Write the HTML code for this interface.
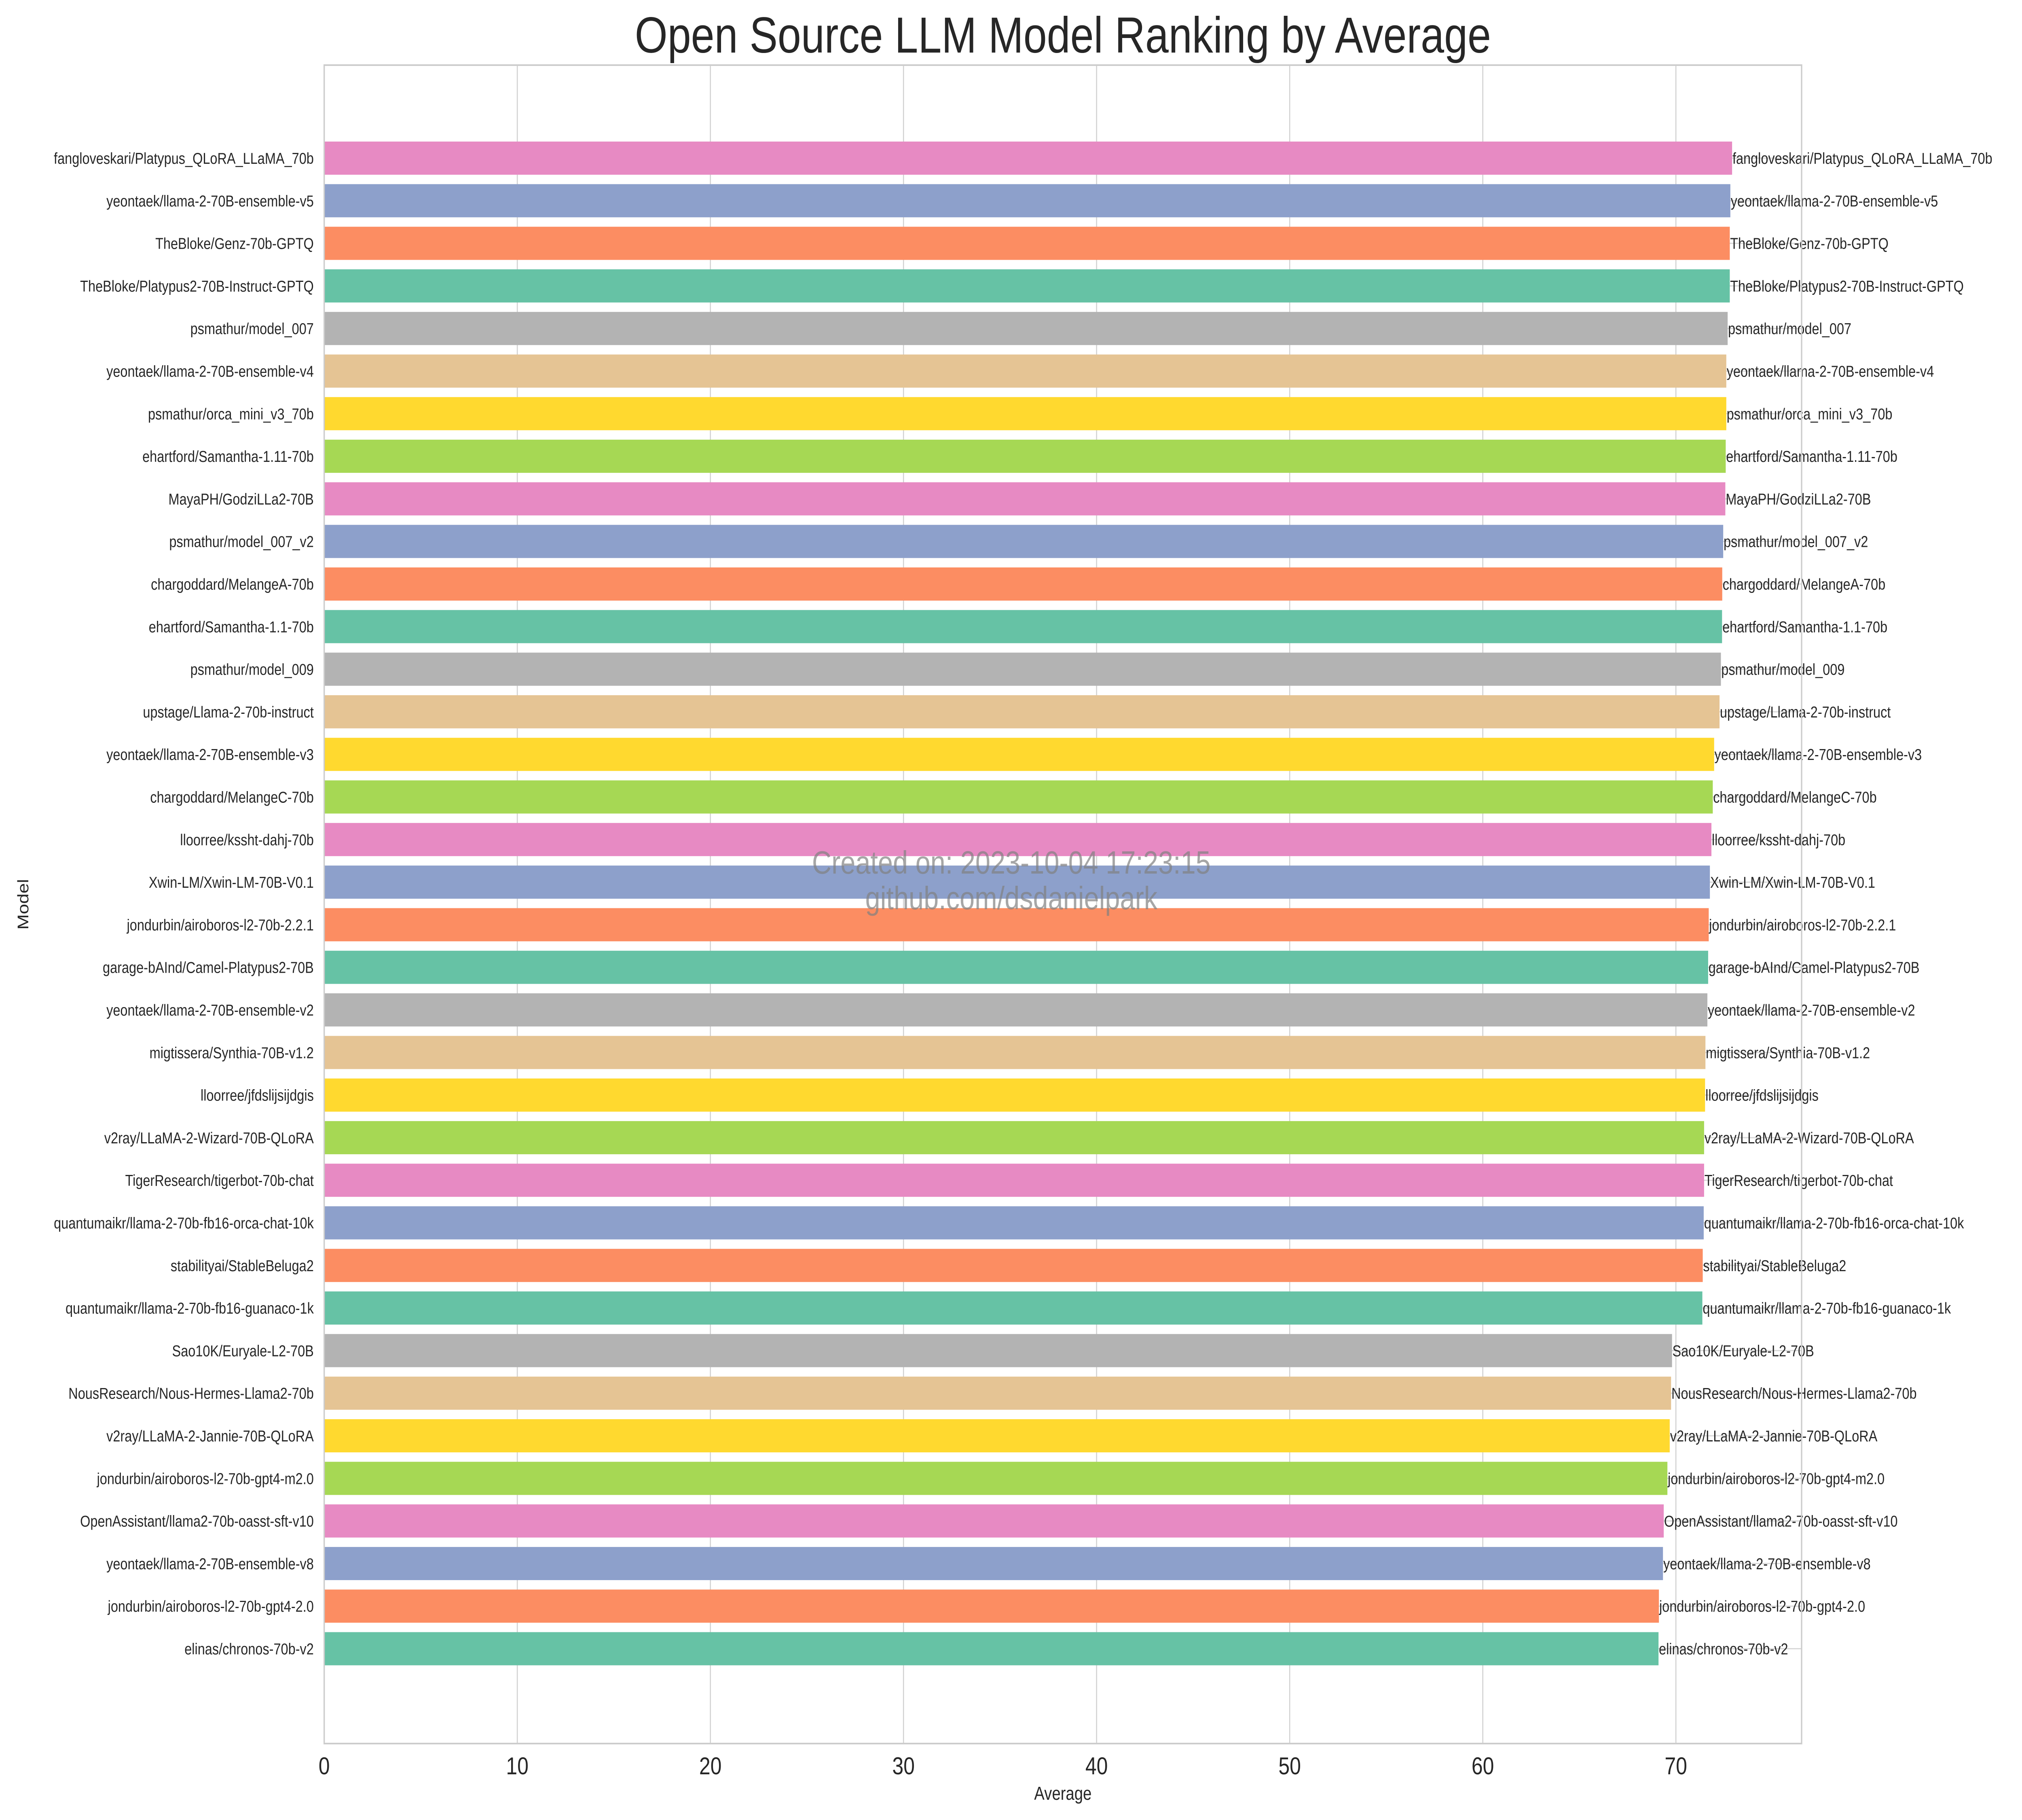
<!DOCTYPE html>
<html><head><meta charset="utf-8"><style>
html,body{margin:0;padding:0;background:#fff;width:100%;height:100%;overflow:hidden;}
svg{display:block;position:absolute;left:0;top:0;width:100vw;height:100vh;font-family:"Liberation Sans",Arial,sans-serif;}
</style></head><body>
<svg id="chart" xmlns="http://www.w3.org/2000/svg" viewBox="0 0 6000 4500" preserveAspectRatio="none" overflow="hidden">
<rect x="0" y="0" width="6000" height="4500" fill="#fff"/>
<text x="3154" y="130" font-size="125" text-anchor="middle" fill="#262626">Open Source LLM Model Ranking by Average</text>
<g id="grid"></g>
<g id="bars"></g>
<g id="ylabels"></g>
<g id="vlabels"></g>
<g id="xticks"></g>
<rect x="962" y="161" width="4384" height="4150" fill="none" stroke="#cccccc" stroke-width="4"/>
<text x="3154" y="4450" font-size="46" text-anchor="middle" fill="#262626">Average</text>
<text x="0" y="0" font-size="46" text-anchor="middle" fill="#262626" transform="translate(84,2236) rotate(-90)">Model</text>
<text x="3001" y="2160" font-size="80" text-anchor="middle" fill="#808080" fill-opacity="0.7">Created on: 2023-10-04 17:23:15</text>
<text x="3001" y="2248" font-size="80" text-anchor="middle" fill="#808080" fill-opacity="0.7">github.com/dsdanielpark</text>
</svg>
<script>
const models = ["fangloveskari/Platypus_QLoRA_LLaMA_70b","yeontaek/llama-2-70B-ensemble-v5","TheBloke/Genz-70b-GPTQ","TheBloke/Platypus2-70B-Instruct-GPTQ","psmathur/model_007","yeontaek/llama-2-70B-ensemble-v4","psmathur/orca_mini_v3_70b","ehartford/Samantha-1.11-70b","MayaPH/GodziLLa2-70B","psmathur/model_007_v2","chargoddard/MelangeA-70b","ehartford/Samantha-1.1-70b","psmathur/model_009","upstage/Llama-2-70b-instruct","yeontaek/llama-2-70B-ensemble-v3","chargoddard/MelangeC-70b","lloorree/kssht-dahj-70b","Xwin-LM/Xwin-LM-70B-V0.1","jondurbin/airoboros-l2-70b-2.2.1","garage-bAInd/Camel-Platypus2-70B","yeontaek/llama-2-70B-ensemble-v2","migtissera/Synthia-70B-v1.2","lloorree/jfdslijsijdgis","v2ray/LLaMA-2-Wizard-70B-QLoRA","TigerResearch/tigerbot-70b-chat","quantumaikr/llama-2-70b-fb16-orca-chat-10k","stabilityai/StableBeluga2","quantumaikr/llama-2-70b-fb16-guanaco-1k","Sao10K/Euryale-L2-70B","NousResearch/Nous-Hermes-Llama2-70b","v2ray/LLaMA-2-Jannie-70B-QLoRA","jondurbin/airoboros-l2-70b-gpt4-m2.0","OpenAssistant/llama2-70b-oasst-sft-v10","yeontaek/llama-2-70B-ensemble-v8","jondurbin/airoboros-l2-70b-gpt4-2.0","elinas/chronos-70b-v2"];
const averages = [72.91,72.82,72.79,72.79,72.68,72.61,72.61,72.58,72.56,72.45,72.40,72.39,72.33,72.26,71.98,71.91,71.84,71.76,71.70,71.67,71.63,71.53,71.51,71.46,71.46,71.44,71.39,71.37,69.80,69.75,69.68,69.56,69.37,69.33,69.12,69.10];
const xTicks = [0,10,20,30,40,50,60,70];
const palette = ["#66c2a5","#fc8d62","#8da0cb","#e78ac3","#a6d854","#ffd92f","#e5c494","#b3b3b3"];

const NS="http://www.w3.org/2000/svg";
const X0=962, PXU=57.3, Y0=391, STEP=105.3, BH=82, TOP=161, BOT=4311;
function xs(v){return X0+v*PXU;}
function ys(i){return Y0+i*STEP;}
function mk(tag,attrs,parent){const e=document.createElementNS(NS,tag);for(const k in attrs)e.setAttribute(k,attrs[k]);parent.appendChild(e);return e;}
const grid=document.getElementById('grid'),bars=document.getElementById('bars'),yl=document.getElementById('ylabels'),vl=document.getElementById('vlabels'),xt=document.getElementById('xticks');
xTicks.forEach(t=>{
  const l=mk('line',{x1:xs(t),x2:xs(t),y1:TOP,y2:BOT,stroke:'#d0d0d0','stroke-width':3},grid);
  
  
  const tx=mk('text',{x:xs(t),y:4387,'font-size':60,'text-anchor':'middle',fill:'#262626'},xt);
  tx.textContent=String(t);
  
  
});
const n=models.length;
models.forEach((m,i)=>{
  const y=ys(i);
  const g=mk('line',{x1:X0,x2:5346,y1:y,y2:y,stroke:'#d8d8d8','stroke-width':3},grid);
  
  
  const j=n-1-i;
  const r=mk('rect',{x:X0,y:y-BH/2,width:xs(averages[i])-X0,height:BH,fill:palette[j%8]},bars);
  
  
  const t=mk('text',{x:931,y:y+14,'font-size':39,'text-anchor':'end',fill:'#262626'},yl);
  t.textContent=m;
  
  
  const v=mk('text',{x:xs(averages[i])+1,y:y+14,'font-size':39,fill:'#262626'},vl);
  v.textContent=m;
  
  
});
</script>
</body></html>
